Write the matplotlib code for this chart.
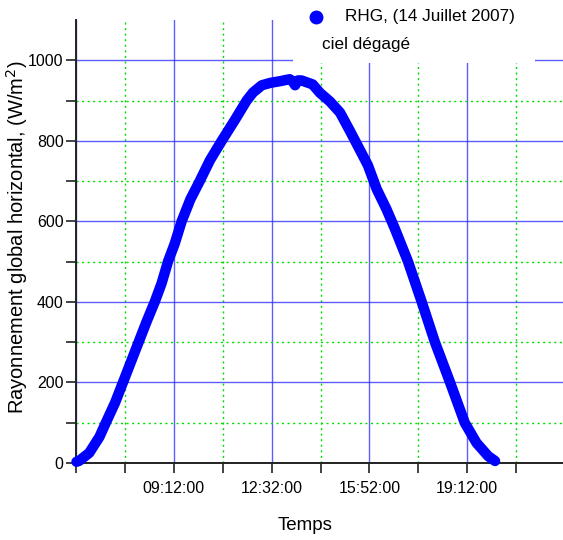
import matplotlib
matplotlib.use("Agg")
import matplotlib.pyplot as plt
from matplotlib.ticker import FixedLocator, FuncFormatter
from matplotlib.patches import Rectangle

plt.rcParams['font.family'] = ['Liberation Sans', 'DejaVu Sans']

# temps en minutes depuis minuit, RHG en W/m2
temps = [353, 358, 379, 400, 413, 432, 448, 464, 480, 496, 513, 527, 537,
         540, 554, 568, 586, 605, 626, 650, 677, 701, 714, 732, 750, 769,
         789, 795, 800, 806, 813, 836, 851, 871, 892, 912, 928, 949, 967,
         987, 1004, 1031, 1059, 1086, 1117, 1147, 1171, 1195, 1209]
rhg = [3, 5, 25, 65, 100, 150, 200, 250, 300, 350, 400, 446, 487,
       500, 545, 600, 655, 700, 752, 800, 852, 900, 920, 938, 944, 948,
       953, 948, 938, 950, 950, 940, 919, 898, 870, 825, 788, 739, 680,
       630, 582, 500, 400, 300, 200, 100, 50, 17, 5]

major_x = [352, 552, 752, 952, 1152]
minor_x = [452, 652, 852, 1052, 1252]
major_y = [0, 200, 400, 600, 800, 1000]
minor_y = [100, 300, 500, 700, 900]

def fmt_time(v, pos):
    if v < 400:
        return ""
    h = int(v) // 60
    m = int(v) % 60
    return "%02d:%02d:00" % (h, m)

fig = plt.figure(figsize=(5.63, 5.40), dpi=100)
ax = fig.add_axes([76/563, 77/540, 489/563, 443/540])

ax.plot(temps, rhg, color='#0000ff', lw=7.5, solid_capstyle='round',
        solid_joinstyle='round', zorder=5, clip_on=False)

ax.set_xlim(352, 1352)
ax.set_ylim(0, 1100)

ax.xaxis.set_major_locator(FixedLocator(major_x))
ax.xaxis.set_minor_locator(FixedLocator(minor_x))
ax.xaxis.set_major_formatter(FuncFormatter(fmt_time))
ax.yaxis.set_major_locator(FixedLocator(major_y))
ax.yaxis.set_minor_locator(FixedLocator(minor_y))

ax.grid(which='major', color='#3333ff', lw=1.0, ls='-', alpha=0.8)
ax.grid(which='minor', color='#00dd00', lw=1.0, ls=(0, (1.5, 2.5)))
ax.set_axisbelow(True)

for s in ['top', 'right']:
    ax.spines[s].set_visible(False)
for s in ['left', 'bottom']:
    ax.spines[s].set_color('#222222')
    ax.spines[s].set_linewidth(1.4)

ax.tick_params(which='both', direction='out', color='#222222', width=1.2)
ax.tick_params(which='major', length=7, labelsize=11.5)
ax.tick_params(which='minor', length=7)
ax.tick_params(axis='x', which='major', pad=6)
ax.tick_params(axis='y', which='major', pad=2)

fig.text(305/563, (540-525)/540, "Temps", fontsize=13.5, ha='center', va='center')
fig.text(17/563, (540-237)/540, "Rayonnement global horizontal, (W/m$^2$)",
         fontsize=14.5, ha='center', va='center', rotation=90)

# légende
fig.patches.append(Rectangle((293/563, (540-63)/540), 242/563, 63/540,
                             transform=fig.transFigure, facecolor='white',
                             edgecolor='none', zorder=3))
fig.lines.append(plt.Line2D([316/563], [(540-17)/540], marker='o', ms=9,
                            color='#0000ff', transform=fig.transFigure, zorder=4))
fig.text(345/563, (540-17)/540, "RHG, (14 Juillet 2007)", fontsize=12.3,
         va='center', ha='left', zorder=4)
fig.text(322/563, (540-44)/540, "ciel dégagé", fontsize=12.3,
         va='center', ha='left', zorder=4)

fig.savefig("out.png", dpi=100)
